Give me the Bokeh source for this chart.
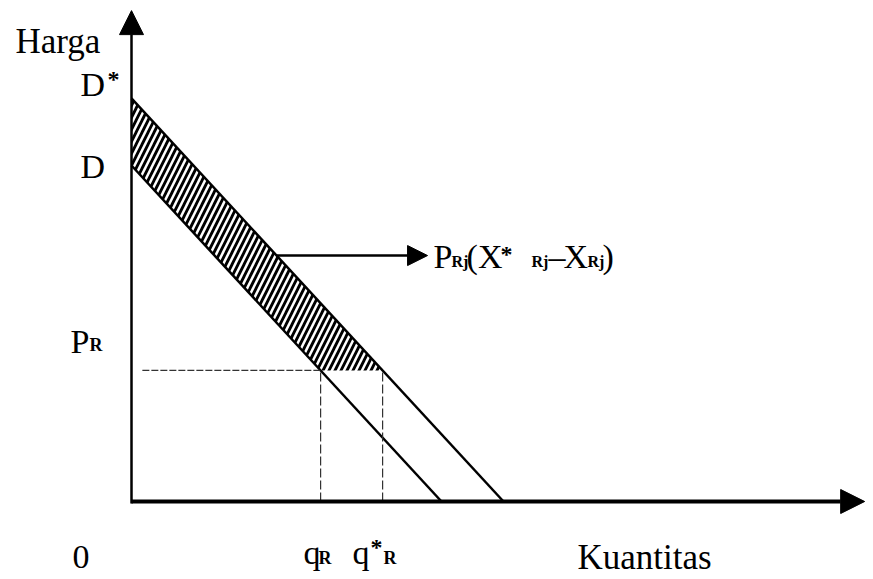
from bokeh.plotting import figure
from bokeh.models import Arrow, NormalHead, Label, Range1d
from bokeh.embed import file_html
from bokeh.resources import INLINE

# ---- data (arbitrary units) ----
D_q = [0, 10]        # demand D: quantity end points
D_p = [10, 0]        # demand D: price end points
Dstar_q = [0, 12]    # demand D*: quantity end points
Dstar_p = [12, 0]    # demand D*: price end points
P_R = 3.9            # price level P_R
q_R = 6.1            # quantity q_R (on D at P_R)
qstar_R = 8.1        # quantity q*_R (on D* at P_R)
label_price = 7.32   # price level where the pointer arrow starts (on D*)
axis_x_max = 23.65
axis_y_max = 14.61

FONT = "Liberation Serif"

p = figure(width=873, height=579, output_backend="svg", toolbar_location=None,
           x_range=Range1d(-4.226, 23.935), y_range=Range1d(-2.321, 14.911),
           min_border=0)
p.axis.visible = False
p.grid.visible = False
p.outline_line_color = None
p.background_fill_color = "white"
p.border_fill_color = "white"

# hatched area between D and D* above P_R
hx = [Dstar_q[0], D_q[0], q_R, qstar_R]
hy = [Dstar_p[0], D_p[0], P_R, P_R]
p.patch(hx, hy, fill_color=None, line_color=None,
        hatch_pattern="/", hatch_color="black", hatch_weight=2.8, hatch_scale=12)

# demand curves
p.line(D_q, D_p, line_color="black", line_width=2.5)
p.line(Dstar_q, Dstar_p, line_color="black", line_width=2.5)

# guide lines
p.line([0.35, q_R], [P_R, P_R], line_color="#333333", line_width=1.2, line_dash="7 2")
p.line([q_R, q_R], [0, P_R], line_color="#333333", line_width=1.2, line_dash="9 3")
p.line([qstar_R, qstar_R], [0, P_R], line_color="#333333", line_width=1.2, line_dash="9 3")

# axes with arrow heads
p.add_layout(Arrow(end=NormalHead(size=24, fill_color="black", line_color="black"),
                   x_start=0, y_start=-0.06, x_end=0, y_end=axis_y_max,
                   line_color="black", line_width=2.5))
p.add_layout(Arrow(end=NormalHead(size=24, fill_color="black", line_color="black"),
                   x_start=0, y_start=0, x_end=axis_x_max, y_end=0,
                   line_color="black", line_width=4))

# pointer arrow from D* to the label
arrow_start_q = Dstar_q[1] - label_price * Dstar_q[1] / Dstar_p[0]
arrow_end_q = 9.55
p.add_layout(Arrow(end=NormalHead(size=20, fill_color="black", line_color="black"),
                   x_start=arrow_start_q, y_start=label_price,
                   x_end=arrow_end_q, y_end=label_price,
                   line_color="black", line_width=2.5))

BASE_DY = 14


def lab(x, y, text, dx, dy, size="34px", style="normal"):
    p.add_layout(Label(x=x, y=y, text=text, x_offset=dx, y_offset=dy + BASE_DY,
                       text_font=FONT, text_font_size=size, text_font_style=style,
                       text_color="black", text_baseline="alphabetic",
                       text_align="left"))


# axis labels
lab(0, Dstar_p[0], "Harga", -116, 43, "35px")
lab(0, 0, "0", -59, -69)
lab(0, 0, "Kuantitas", 446, -70, "35px")

# intercept labels
lab(0, Dstar_p[0], "D", -51, 0)
lab(0, Dstar_p[0], "*", -24, 5, "24px", "bold")
lab(0, D_p[0], "D", -51, -15)
lab(0, P_R, "P", -61, 15)
lab(0, P_R, "R", -42, 11, "18px", "bold")

# quantity labels
lab(q_R, 0, "q", -17, -65)
lab(q_R, 0, "R", -2, -70, "18px", "bold")
lab(qstar_R, 0, "q", -30, -65)
lab(qstar_R, 0, "*", -12, -59, "24px", "bold")
lab(qstar_R, 0, "R", 1, -70, "18px", "bold")

# pointer label  P_Rj (X*_Rj – X_Rj)
lab(arrow_end_q, label_price, "P", 6, -15)
lab(arrow_end_q, label_price, "Rj", 24, -20, "16px", "bold")
lab(arrow_end_q, label_price, "(X", 39, -15)
lab(arrow_end_q, label_price, "*", 73, -12, "24px", "bold")
lab(arrow_end_q, label_price, "Rj", 104, -20, "16px", "bold")
lab(arrow_end_q, label_price, "\u2013", 121, -15)
lab(arrow_end_q, label_price, "X", 136, -15)
lab(arrow_end_q, label_price, "Rj", 160, -20, "16px", "bold")
lab(arrow_end_q, label_price, ")", 175, -15)

open("out.html", "w").write(file_html(p, INLINE))
